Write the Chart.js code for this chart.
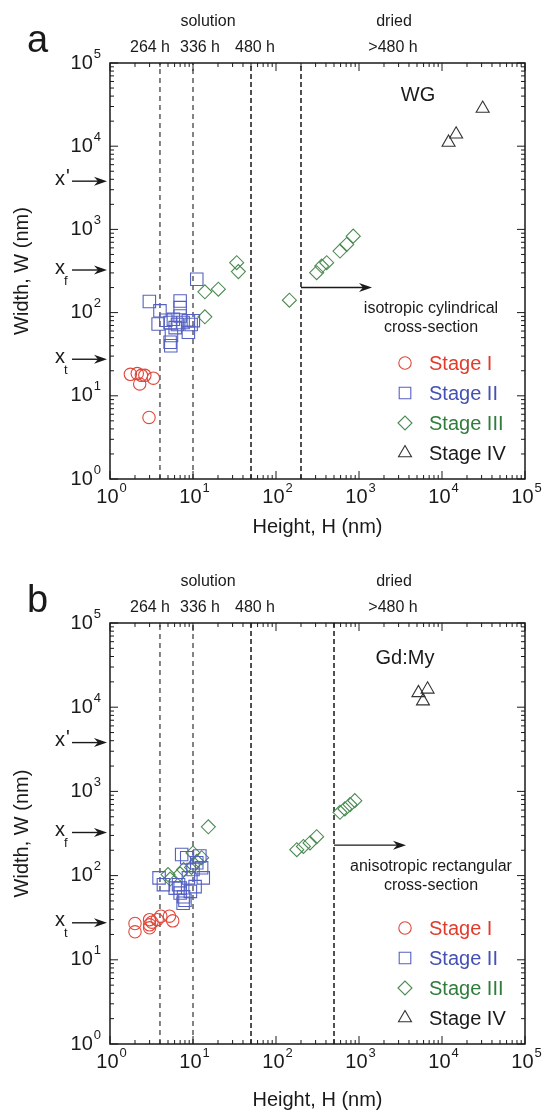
<!DOCTYPE html>
<html>
<head>
<meta charset="utf-8">
<script src="https://cdn.jsdelivr.net/npm/chart.js@4.4.1/dist/chart.umd.min.js"></script>
<style>
  html, body { margin: 0; padding: 0; background: #fff; }
  #wrap { position: relative; width: 543px; height: 1114px; }
  canvas { position: absolute; left: 0; }
</style>
</head>
<body>
<div id="wrap">
  <canvas id="ca" width="543" height="557" style="top:0;width:543px;height:557px"></canvas>
  <canvas id="cb" width="543" height="557" style="top:557px;width:543px;height:557px"></canvas>
</div>
<script>
// ---- data ----
const decades = [0, 1, 2, 3, 4, 5];
const stageNames = ["Stage I", "Stage II", "Stage III", "Stage IV"];
const hourLabels = ["264 h", "336 h", "480 h", ">480 h"];
const phaseLabels = ["solution", "dried"];
const lengthNames = ["x'", "xf", "xt"];
const lengthLevels = [3800, 325, 27.5];

// panel a, WG  ([height, width] in nm)
const wgDividers = [4, 10, 50, 200];
const wgStage1 = [[1.76, 18.1], [2.13, 18.5], [2.39, 17.6], [2.63, 17.6], [2.28, 13.9], [3.33, 16.3], [2.95, 5.5]];
const wgStage2 = [[2.98, 136], [4.0, 105], [3.8, 73], [4.7, 81], [5.3, 76], [5.8, 83], [6.1, 66], [7.0, 138],
  [7.0, 115], [7.0, 91], [7.6, 76], [8.8, 80], [10.1, 80], [5.3, 44], [5.5, 53], [8.8, 58], [11.1, 252],
  [5.4, 40], [6.5, 72], [9.5, 72]];
const wgStage3 = [[13.9, 178], [20.2, 191], [33.6, 398], [35.2, 311], [13.9, 89], [145, 141], [309, 302],
  [355, 363], [408, 398], [590, 549], [711, 659], [852, 830]];
const wgStage4 = [[30900, 28400], [14800, 13900], [12000, 11100]];
const wgArrowW = 200;

// panel b, Gd:My
const gdDividers = [4, 10, 50, 500];
const gdStage1 = [[2.0, 27], [2.0, 21.5], [3.0, 30], [3.0, 26], [3.0, 24], [3.2, 28], [3.7, 30], [4.1, 33],
  [5.2, 33], [5.7, 29]];
const gdStage2 = [[3.9, 94], [4.4, 78], [6.1, 71], [7.0, 62], [8.0, 51], [6.7, 78], [8.8, 94], [10, 118],
  [11.1, 142], [8.4, 163], [7.3, 178], [12.1, 171], [12.7, 124], [13.3, 94], [10.6, 74], [7.6, 47],
  [7.0, 71], [7.7, 56], [9.3, 65]];
const gdStage3 = [[15.3, 380], [5.0, 103], [7.7, 118], [10, 186], [11.1, 148], [9.6, 125], [7.0, 105],
  [5.3, 91], [12.7, 163], [178, 203], [214, 222], [257, 244], [309, 290], [590, 565], [676, 620],
  [780, 697], [890, 777]];
const gdStage4 = [[5200, 14800], [6700, 16300], [5900, 11800]];
const gdArrowW = 230;

// ---- styling ----
const INK = "#1a1a1a";
const FONT = '"Liberation Sans", Arial, sans-serif';
const markerColors = ["#e0473a", "#5561c2", "#4b8b52", "#333333"];
const textColors = ["#e23b2c", "#4450b4", "#2f7d3b", "#1a1a1a"];
const pointStyles = ["circle", "rect", "rectRot", "triangle"];
const pointSizes = [6.2, 8.8, 7, 7.5];

function toXY(pairs) { return pairs.map(([h, w]) => ({ x: h, y: w })); }

function buildDatasets(stages, dividers) {
  const sets = stages.map((pts, i) => ({
    label: stageNames[i],
    data: toXY(pts),
    pointStyle: pointStyles[i],
    pointRadius: pointSizes[i],
    pointBorderWidth: 1.1,
    pointBorderColor: markerColors[i],
    pointBackgroundColor: "rgba(0,0,0,0)",
    showLine: false,
    order: 1,
  }));
  dividers.forEach((h, i) => {
    sets.push({
      data: [{ x: h, y: 1 }, { x: h, y: 1e5 }],
      showLine: true,
      pointRadius: 0,
      borderColor: "#333",
      borderWidth: i < 2 ? 1.2 : 1.7,
      borderDash: i < 2 ? [5, 4] : [5, 3],
      order: 10,
    });
  });
  return sets;
}

function line(ctx, x1, y1, x2, y2) {
  ctx.beginPath(); ctx.moveTo(x1, y1); ctx.lineTo(x2, y2); ctx.stroke();
}

function arrow(ctx, x1, y, x2) {
  ctx.lineWidth = 1.4;
  line(ctx, x1, y, x2 - 8, y);
  ctx.beginPath();
  ctx.moveTo(x2, y); ctx.lineTo(x2 - 13, y - 4.5); ctx.lineTo(x2 - 9, y); ctx.lineTo(x2 - 13, y + 4.5);
  ctx.closePath(); ctx.fill();
}

function powLabel(ctx, p, x, y, mode) {
  ctx.font = "20px " + FONT;
  const wb = ctx.measureText("10").width;
  ctx.font = "13px " + FONT;
  const ws = ctx.measureText(String(p)).width;
  const left = mode === "x" ? x - (wb + ws) / 2 + 1 : x - wb - ws;
  ctx.textAlign = "left"; ctx.textBaseline = "middle";
  ctx.font = "20px " + FONT;
  ctx.fillText("10", left, y);
  ctx.font = "13px " + FONT;
  ctx.fillText(String(p), left + wb + 1, y - 9);
}

function marker(ctx, style, x, y, r, color) {
  ctx.strokeStyle = color; ctx.lineWidth = 1.1;
  ctx.beginPath();
  if (style === "circle") ctx.arc(x, y, r, 0, Math.PI * 2);
  else if (style === "rect") { const s = r * Math.SQRT1_2; ctx.rect(x - s, y - s, 2 * s, 2 * s); }
  else if (style === "rectRot") { ctx.moveTo(x - r, y); ctx.lineTo(x, y - r); ctx.lineTo(x + r, y); ctx.lineTo(x, y + r); ctx.closePath(); }
  else { ctx.moveTo(x, y - r); ctx.lineTo(x + r * 0.866, y + r / 2); ctx.lineTo(x - r * 0.866, y + r / 2); ctx.closePath(); }
  ctx.stroke();
}

const decorations = {
  id: "decorations",
  afterDraw(chart) {
    const cfg = chart.options.plugins.decorations;
    const { ctx, chartArea: a } = chart;
    const xs = chart.scales.x, ys = chart.scales.y;
    ctx.save();
    ctx.fillStyle = INK; ctx.strokeStyle = INK;

    // frame + inward ticks on all sides
    ctx.lineWidth = 1.5;
    ctx.strokeRect(a.left, a.top, a.right - a.left, a.bottom - a.top);
    ctx.lineWidth = 1;
    for (const p of decades) {
      for (let m = 1; m <= 9; m++) {
        const v = m * Math.pow(10, p);
        if (v > 1e5) break;
        const len = m === 1 ? 8 : 4;
        const px = xs.getPixelForValue(v), py = ys.getPixelForValue(v);
        line(ctx, px, a.bottom, px, a.bottom - len);
        line(ctx, px, a.top, px, a.top + len);
        line(ctx, a.left, py, a.left + len, py);
        line(ctx, a.right, py, a.right - len, py);
      }
    }

    // tick labels
    for (const p of decades) {
      const v = Math.pow(10, p);
      powLabel(ctx, p, xs.getPixelForValue(v), a.bottom + 18, "x");
      powLabel(ctx, p, a.left - 10, ys.getPixelForValue(v), "y");
    }

    // axis titles
    ctx.font = "20px " + FONT;
    ctx.textAlign = "center"; ctx.textBaseline = "middle";
    ctx.fillText("Height, H (nm)", (a.left + a.right) / 2, a.bottom + cfg.xTitleGap);
    ctx.save();
    ctx.translate(22, (a.top + a.bottom) / 2);
    ctx.rotate(-Math.PI / 2);
    ctx.fillText("Width, W (nm)", 0, 0);
    ctx.restore();

    // panel letter
    ctx.font = "38px " + FONT;
    ctx.textAlign = "left"; ctx.textBaseline = "alphabetic";
    ctx.fillText(cfg.letter, 27, a.top - 11);

    // time / phase labels above the frame
    ctx.font = "16px " + FONT;
    ctx.textAlign = "center"; ctx.textBaseline = "middle";
    const hourX = [150, 200, 255, 393];
    hourLabels.forEach((t, i) => ctx.fillText(t, hourX[i], a.top - 15));
    const phaseX = [208, 394];
    phaseLabels.forEach((t, i) => ctx.fillText(t, phaseX[i], a.top - 41));

    // characteristic length arrows on the left
    lengthNames.forEach((n, i) => {
      const py = ys.getPixelForValue(lengthLevels[i]);
      arrow(ctx, 72, py, a.left - 3);
      ctx.font = "20px " + FONT;
      ctx.textAlign = "left"; ctx.textBaseline = "middle";
      ctx.fillText("x", 55, py - 2);
      if (n[1] === "'") {
        ctx.fillText("'", 66, py - 4);
      } else {
        ctx.font = "13px " + FONT;
        ctx.fillText(n[1], 64, py + 11);
      }
    });

    // sample name
    ctx.font = "20px " + FONT;
    ctx.textAlign = "center"; ctx.textBaseline = "middle";
    ctx.fillText(cfg.sample, cfg.sampleX, a.top + cfg.sampleDy);

    // cross-section arrow + note
    const ay = ys.getPixelForValue(cfg.arrowW);
    arrow(ctx, xs.getPixelForValue(cfg.arrowH), ay, cfg.arrowEnd);
    ctx.font = "16px " + FONT;
    ctx.fillText(cfg.note[0], 431, ay + 21);
    ctx.fillText(cfg.note[1], 431, ay + 40);

    // legend
    stageNames.forEach((s, i) => {
      const ly = a.bottom - 116 + 30 * i;
      marker(ctx, pointStyles[i], 405, ly, i === 1 ? 8.2 : pointSizes[i], markerColors[i]);
      ctx.fillStyle = textColors[i];
      ctx.font = "20px " + FONT;
      ctx.textAlign = "left"; ctx.textBaseline = "middle";
      ctx.fillText(s, 429, ly + 1);
    });
    ctx.restore();
  },
};

function makeChart(id, stages, dividers, pad, deco) {
  return new Chart(document.getElementById(id), {
    type: "scatter",
    data: { datasets: buildDatasets(stages, dividers) },
    options: {
      responsive: false,
      devicePixelRatio: 1,
      animation: false,
      layout: { padding: pad },
      plugins: { legend: { display: false }, tooltip: { enabled: false }, decorations: deco },
      scales: {
        x: { type: "logarithmic", min: 1, max: 1e5, display: false },
        y: { type: "logarithmic", min: 1, max: 1e5, display: false },
      },
    },
    plugins: [decorations],
  });
}

makeChart("ca", [wgStage1, wgStage2, wgStage3, wgStage4], wgDividers,
  { left: 110, top: 63, right: 18, bottom: 78 },
  { letter: "a", sample: "WG", sampleX: 418, sampleDy: 32, arrowH: wgDividers[3], arrowW: wgArrowW,
    arrowEnd: 372, note: ["isotropic cylindrical", "cross-section"], xTitleGap: 48 });

makeChart("cb", [gdStage1, gdStage2, gdStage3, gdStage4], gdDividers,
  { left: 110, top: 66, right: 18, bottom: 70 },
  { letter: "b", sample: "Gd:My", sampleX: 405, sampleDy: 35, arrowH: gdDividers[3], arrowW: gdArrowW,
    arrowEnd: 406, note: ["anisotropic rectangular", "cross-section"], xTitleGap: 56 });
</script>
</body>
</html>
